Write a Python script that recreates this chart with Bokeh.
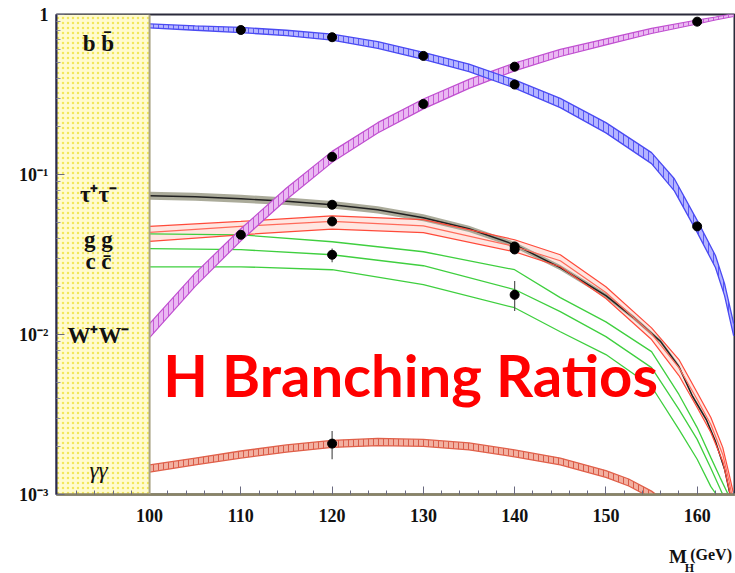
from bokeh.plotting import figure
from bokeh.layouts import column
from bokeh.models import Range1d, FixedTicker, BoxAnnotation, Span, Label
from bokeh.embed import file_html
from bokeh.resources import INLINE

# ---------------- data ----------------
# x-axis ticks
x_ticks = [100, 110, 120, 130, 140, 150, 160]
x_minor = [92, 94, 96, 98, 102, 104, 106, 108, 112, 114, 116, 118, 122, 124, 126, 128,
           132, 134, 136, 138, 142, 144, 146, 148, 152, 154, 156, 158, 162, 164]
y_ticks = [0.001, 0.01, 0.1, 1.0]
y_tick_labels = {0.001: "10\u207b\u00b3", 0.01: "10\u207b\u00b2", 0.1: "10\u207b\u00b9", 1.0: "1"}
y_minor = [m * d for d in (0.001, 0.01, 0.1) for m in (2, 3, 4, 5, 6, 7, 8, 9)]

# b bbar band
bb_x = [100, 105, 110, 115, 120, 125, 130, 135, 140, 145, 150, 155, 157.5, 160, 162, 163, 164]
bb_hi = [0.873, 0.850, 0.830, 0.797, 0.753, 0.676, 0.580, 0.490, 0.390, 0.299, 0.211, 0.137, 0.094, 0.0517, 0.0312, 0.0208, 0.0117]
bb_lo = [0.824, 0.797, 0.771, 0.737, 0.691, 0.615, 0.524, 0.440, 0.347, 0.262, 0.182, 0.117, 0.079, 0.0435, 0.0262, 0.0175, 0.0098]

# W+W- band
ww_x = [100, 105, 110, 115, 120, 125, 130, 135, 140, 145, 150, 155, 160, 162, 164]
ww_hi = [0.01169, 0.0242, 0.0458, 0.0823, 0.1395, 0.2109, 0.2967, 0.3930, 0.4979, 0.6048, 0.7033, 0.8181, 0.9239, 0.965, 1.015]
ww_lo = [0.00956, 0.0200, 0.0385, 0.0698, 0.1191, 0.1815, 0.2572, 0.3452, 0.4440, 0.5465, 0.6453, 0.7607, 0.8726, 0.924, 0.972]

# tau+ tau- band
tt_x = [100, 105, 110, 115, 120, 125, 130, 135, 140, 145, 150, 153, 156, 158, 159.5, 161, 162, 163, 163.6]
tt_mid = [0.0736, 0.0726, 0.0705, 0.0680, 0.0647, 0.0602, 0.0537, 0.0458, 0.0364, 0.0262, 0.0175, 0.0128, 0.00903, 0.00630, 0.00410, 0.00294, 0.00215, 0.00144, 0.00100]
tt_hi = [0.0780, 0.0769, 0.0747, 0.0718, 0.0683, 0.0634, 0.0565, 0.0479, 0.0379, 0.0272, 0.0181, 0.0132, 0.0093, 0.0065, 0.00422, 0.00302, 0.00221, 0.00148, 0.00103]
tt_lo = [0.0695, 0.0686, 0.0666, 0.0644, 0.0613, 0.0571, 0.0510, 0.0437, 0.0349, 0.0252, 0.0169, 0.0124, 0.0088, 0.0061, 0.00398, 0.00286, 0.00209, 0.00140, 0.00097]

# g g band (three lines)
gg_x = [100, 110, 120, 130, 140, 145, 150, 155, 158, 160, 161.5, 162.8, 163.5, 164]
gg_hi = [0.0474, 0.0509, 0.0552, 0.0522, 0.0391, 0.0315, 0.0199, 0.0110, 0.00697, 0.00434, 0.00303, 0.00197, 0.00134, 0.00100]
gg_mid = [0.0435, 0.0474, 0.0509, 0.0478, 0.0355, 0.0289, 0.0183, 0.0101, 0.00621, 0.00392, 0.00274, 0.00178, 0.00121, 0.000867]
gg_lo = [0.0382, 0.0420, 0.0456, 0.0433, 0.0329, 0.0265, 0.0168, 0.00930, 0.00554, 0.00350, 0.00244, 0.00161, 0.00108, 0.000751]

# c cbar (three lines)
cc_up_x = [100, 110, 120, 130, 140, 145, 150, 155, 158, 160, 161.5, 162.5, 163.4]
cc_up = [0.0426, 0.0420, 0.0380, 0.0329, 0.0254, 0.0170, 0.0120, 0.00782, 0.00422, 0.00262, 0.00170, 0.00128, 0.00100]
cc_mid_x = [100, 110, 120, 130, 140, 145, 150, 155, 158, 160, 161.5, 162.8]
cc_mid = [0.0344, 0.0339, 0.0315, 0.0269, 0.0191, 0.0139, 0.00970, 0.00621, 0.00340, 0.00221, 0.00146, 0.00100]
cc_lo_x = [100, 110, 120, 130, 140, 145, 150, 155, 158, 160, 161.5, 162.1]
cc_lo = [0.0265, 0.0265, 0.0254, 0.0205, 0.0147, 0.0104, 0.00749, 0.00473, 0.00255, 0.00166, 0.00112, 0.00100]

# gamma gamma band
aa_x = [100, 105, 110, 115, 120, 125, 130, 135, 140, 145, 150, 152.5, 155, 156]
aa_hi = [0.00153, 0.00169, 0.00187, 0.00204, 0.00218, 0.00224, 0.00221, 0.00210, 0.00190, 0.00169, 0.00141, 0.00125, 0.00105, 0.00095]
aa_lo = [0.00138, 0.00153, 0.00169, 0.00184, 0.00197, 0.00202, 0.00200, 0.00190, 0.00172, 0.00153, 0.00128, 0.00113, 0.00095, 0.00086]

# measured points
dot_x = [110, 120, 130, 140, 160, 110, 120, 130, 140, 160, 120, 140, 120, 140, 120, 140, 120]
dot_y = [0.800, 0.721, 0.551, 0.365, 0.0474, 0.0420, 0.129, 0.276, 0.472, 0.902,
         0.0647, 0.0355, 0.0509, 0.0340, 0.0315, 0.0177, 0.00208]
err_x = [120, 140, 120]
err_lo = [0.0283, 0.0140, 0.00166]
err_hi = [0.0345, 0.0216, 0.00249]

# channel labels in the left panel
lab_text = ["b b\u0304", "\u03c4\u207a\u03c4\u207b", "g g", "c c\u0304", "W\u207aW\u207b", "\u03b3\u03b3"]
lab_y = [0.66, 0.0745, 0.0395, 0.0285, 0.0098, 0.00142]

# ---------------- main figure ----------------
p = figure(width=735, height=533, x_range=Range1d(89.8, 164.2), y_range=Range1d(0.001, 1.0),
           y_axis_type="log", output_backend="svg", toolbar_location=None,
           min_border_left=56, min_border_right=0, min_border_top=14, min_border_bottom=39)
p.xgrid.visible = False
p.ygrid.visible = False
p.background_fill_color = "white"
p.border_fill_color = "white"
p.outline_line_color = "#2a2a3a"
p.outline_line_width = 2

# left yellow panel
p.add_layout(BoxAnnotation(right=100, fill_color="#fffbd0", fill_alpha=1.0,
                           hatch_pattern="dot", hatch_color="#f2e75a", hatch_scale=5,
                           hatch_weight=1.2, line_alpha=0, level="underlay"))
p.add_layout(Span(location=100, dimension="height", line_color="#aaa385", line_width=2))

SERIF = "Liberation Serif"

# axes
p.xaxis.ticker = FixedTicker(ticks=x_ticks, minor_ticks=x_minor)
p.yaxis.ticker = FixedTicker(ticks=y_ticks, minor_ticks=y_minor)
p.yaxis.major_label_overrides = y_tick_labels
for ax in (p.xaxis[0], p.yaxis[0]):
    ax.major_tick_in = 8
    ax.major_tick_out = 0
    ax.minor_tick_in = 4
    ax.minor_tick_out = 0
    ax.major_label_text_font = SERIF
    ax.major_label_text_font_style = "bold"
    ax.major_label_text_font_size = "18px"
    ax.major_label_text_color = "#111111"
p.xaxis.axis_line_color = "#8a8466"
p.xaxis.axis_line_width = 2.5
p.xaxis.major_tick_line_color = "#6a6a80"
p.xaxis.minor_tick_line_color = "#6a6a80"
p.xaxis.major_label_standoff = 14
p.yaxis.axis_line_color = "#2a2a50"
p.yaxis.axis_line_width = 2
p.yaxis.major_tick_line_color = "#6a6a80"
p.yaxis.minor_tick_line_color = "#8a8aa0"
p.yaxis.major_label_standoff = 8

# g g band fill
p.varea(x=gg_x, y1=gg_lo, y2=gg_hi, fill_color="#ffb8a8", fill_alpha=0.35)
# c cbar lines
p.line(cc_up_x, cc_up, line_color="#3fcf3f", line_width=1.3)
p.line(cc_mid_x, cc_mid, line_color="#3fcf3f", line_width=1.3)
p.line(cc_lo_x, cc_lo, line_color="#3fcf3f", line_width=1.3)
# tau tau band
p.varea(x=tt_x, y1=tt_lo, y2=tt_hi, fill_color="#9c9c88", fill_alpha=0.85)
p.line(tt_x, tt_mid, line_color="#202020", line_width=1.4)
# g g lines
p.line(gg_x, gg_hi, line_color="#ff4a3a", line_width=1.2)
p.line(gg_x, gg_mid, line_color="#ff6a5a", line_width=1.2)
p.line(gg_x, gg_lo, line_color="#ff4a3a", line_width=1.2)
# gamma gamma band
p.varea(x=aa_x, y1=aa_lo, y2=aa_hi, fill_color="#f2b0a0",
        hatch_pattern="vertical_line", hatch_color="#d85a48", hatch_scale=5, hatch_weight=1)
p.line(aa_x, aa_hi, line_color="#e0604a", line_width=1.3)
p.line(aa_x, aa_lo, line_color="#e0604a", line_width=1.3)
# W W band
p.varea(x=ww_x, y1=ww_lo, y2=ww_hi, fill_color="#eab8f2",
        hatch_pattern="vertical_line", hatch_color="#c65ad6", hatch_scale=5, hatch_weight=1)
p.line(ww_x, ww_hi, line_color="#c050d0", line_width=1.2)
p.line(ww_x, ww_lo, line_color="#c050d0", line_width=1.2)
# b bbar band
p.varea(x=bb_x, y1=bb_lo, y2=bb_hi, fill_color="#b4b4ff",
        hatch_pattern="vertical_line", hatch_color="#5a5af5", hatch_scale=5, hatch_weight=1)
p.line(bb_x, bb_hi, line_color="#4a4af2", line_width=1.3)
p.line(bb_x, bb_lo, line_color="#4a4af2", line_width=1.3)

# measured points
p.segment(x0=err_x, y0=err_lo, x1=err_x, y1=err_hi, line_color="#555555", line_width=1.2)
p.scatter(dot_x, dot_y, size=9, color="black")

# panel labels
for t, yv in zip(lab_text, lab_y):
    is_gamma = t.startswith("\u03b3")
    p.add_layout(Label(x=94.4, y=yv, text=t, text_align="center", text_baseline="middle",
                       text_font=SERIF, text_font_size="23px", text_color="#111111",
                       text_font_style="italic" if is_gamma else "bold"))

# title
p.add_layout(Label(x=101.5, y=0.0056, text="H Branching Ratios", text_color="#ff0000",
                   text_font="Lato", text_font_style="bold", text_font_size="58px",
                   text_baseline="middle"))

# ---------------- strip below for the x-axis title M_H(GeV) ----------------
q = figure(width=735, height=40, x_range=Range1d(0, 735), y_range=Range1d(0, 40),
           output_backend="svg", toolbar_location=None, x_axis_location=None,
           y_axis_location=None, min_border=0)
q.grid.visible = False
q.outline_line_color = None
q.background_fill_color = "white"
q.border_fill_color = "white"
q.add_layout(Label(x=663, y=17, text="M", text_font=SERIF, text_font_style="bold",
                   text_font_size="19px", text_color="#111111", text_baseline="middle"))
q.add_layout(Label(x=680, y=6, text="H", text_font=SERIF, text_font_style="bold",
                   text_font_size="12px", text_color="#111111", text_baseline="middle"))
q.add_layout(Label(x=686, y=19, text="(GeV)", text_font=SERIF, text_font_style="bold",
                   text_font_size="16px", text_color="#111111", text_baseline="middle"))

layout = column(p, q, spacing=0)
open("out.html", "w").write(file_html(layout, INLINE))
